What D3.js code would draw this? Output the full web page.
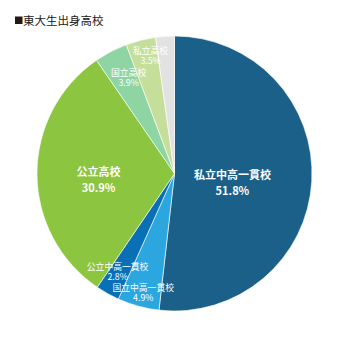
<!DOCTYPE html>
<html>
<head>
<meta charset="utf-8">
<script src="https://cdn.jsdelivr.net/npm/d3@7"></script>
<style>
  html, body { margin: 0; padding: 0; background: #fff; }
  svg { display: block; font-family: "Noto Sans CJK JP", "Noto Sans", sans-serif; }
</style>
</head>
<body>
<svg id="chart" width="350" height="349"></svg>
<script>
// 東大生の出身高校の内訳（%）
const categories = ["私立中高一貫校", "国立中高一貫校", "公立中高一貫校", "公立高校", "国立高校", "私立高校", "その他"];
const shares = [51.8, 4.9, 2.8, 30.9, 3.9, 3.5, 2.2];
const showLabel = [true, true, true, true, true, true, false];
const colors = ["#1b6089", "#2ca6de", "#0a70b6", "#8cc540", "#8fd4a3", "#c5df9b", "#e2e2e2"];

const svg = d3.select("#chart");
const cx = 174.5, cy = 173.5, radius = 137.5;

svg.append("rect").attr("x", 15).attr("y", 16.5).attr("width", 7.5).attr("height", 7.5).attr("fill", "#231815");
svg.append("text").attr("x", 23).attr("y", 25)
  .attr("font-size", 11.5).attr("fill", "#231815").text("東大生出身高校");

const rows = categories.map((c, i) => ({ name: c, value: shares[i], color: colors[i], label: showLabel[i] }));

const pie = d3.pie().sort(null).value(d => d.value);
const arcs = pie(rows);
const arc = d3.arc().innerRadius(0).outerRadius(radius);

const g = svg.append("g").attr("transform", `translate(${cx},${cy})`);

g.selectAll("path.slice").data(arcs).join("path")
  .attr("class", "slice")
  .attr("d", arc)
  .attr("fill", d => d.data.color)
  .attr("stroke", "#fff")
  .attr("stroke-width", 0.6);

// label distance from the centre, per slice
const labelRadius = [58, 124, 114, 76, 106, 120, 0];
const labelAngleShift = [0, -0.012, 0.014, 0, 0.033, 0.047, 0];
const big = [true, false, false, true, false, false, false];

arcs.forEach((d, i) => {
  if (!d.data.label) return;
  const a = (d.startAngle + d.endAngle) / 2 + labelAngleShift[i];
  const r = labelRadius[i];
  const x = r * Math.sin(a), y = -r * Math.cos(a);
  const t = g.append("text")
    .attr("text-anchor", "middle")
    .attr("fill", "#fff")
    .attr("font-size", big[i] ? 11 : 8.8)
    .attr("font-weight", big[i] ? "bold" : "normal");
  const nameY = big[i] ? y + 2 : y - 2;
  const pctY = big[i] ? y + 18 : y + 8;
  t.append("tspan").attr("x", x).attr("y", nameY).text(d.data.name);
  t.append("tspan").attr("x", x).attr("y", pctY).text(d3.format(".1f")(d.data.value) + "%");
});
</script>
</body>
</html>
